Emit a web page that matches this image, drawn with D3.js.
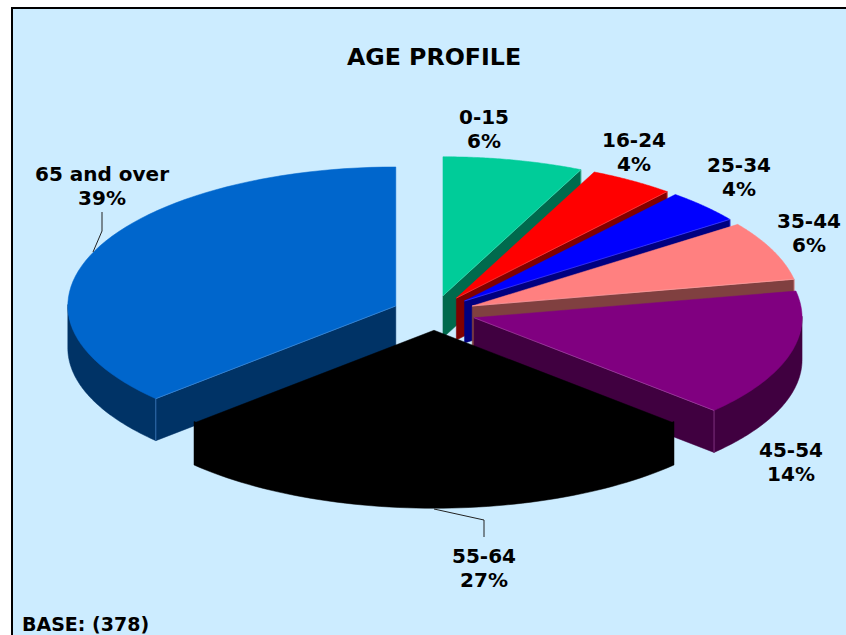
<!DOCTYPE html>
<html><head><meta charset="utf-8">
<script src="https://cdn.jsdelivr.net/npm/d3@7"></script>
<style>html,body{margin:0;padding:0;background:#fff;overflow:hidden}svg{display:block}text{font-family:"DejaVu Sans",Verdana,sans-serif;font-weight:bold;fill:#000}</style>
</head><body><div id="c"></div>
<script>
const categories = ["0-15","16-24","25-34","35-44","45-54","55-64","65 and over"];
const percentLabels = [6,4,4,6,14,27,39];
// slice shares as actually drawn in the picture
const sliceShares = [6.9,4.2,3.9,6.9,15,26.1,36.9];
const topColors = ["#00CC99","#FF0000","#0000FF","#FF8080","#800080","#000000","#0066CC"];
const sideColors = ["#006A4D","#800000","#000080","#804040","#400040","#000000","#003366"];
const labelAnchors = [[484,117],[634,140],[739,165],[809,221],[791,450],[484,556],[102,174]];
const drawOrder = [0,1,2,3,4,6,5];

const W=846,H=635, cx=434, cy=313, rx=328, ryBack=139, ryFront=136, depth=42, explode=0.127;
const svg=d3.select("#c").append("svg").attr("width",W).attr("height",H);
svg.append("rect").attr("x",12).attr("y",8).attr("width",W+10).attr("height",H+10)
  .attr("fill","#CCECFF").attr("stroke","#000").attr("stroke-width",2);

const sx=d3.scaleLinear().domain([-1,1]).range([-rx,rx]);
const sy=d3.scaleLinear().domain([-1,0,1]).range([ryFront,0,-ryBack]);
const arcs=d3.pie().sort(null).value(d=>d)(sliceShares);
const line=d3.line();
const half=Math.PI/2;

arcs.forEach((a,i)=>{a.i=i;const m=(a.startAngle+a.endAngle)/2;
  a.ox=cx+sx(Math.sin(m)*explode); a.oy=cy+sy(Math.cos(m)*explode);});
const rim=(a,t,dz=0)=>[a.ox+sx(Math.sin(t)),a.oy+sy(Math.cos(t))+dz];
const sweep=(a,t0,t1,dz=0)=>d3.range(0,61).map(k=>rim(a,t0+(t1-t0)*k/60,dz));

const g=svg.append("g");
drawOrder.forEach(i=>{
  const a=arcs[i], side=sideColors[i], top=topColors[i];
  const apex=[a.ox,a.oy], apexB=[a.ox,a.oy+depth];
  const edge=d3.interpolateRgb(top,"#fff")(0.3);
  const faceAngle=a.endAngle<Math.PI?a.endAngle:(a.startAngle>Math.PI?a.startAngle:null);
  // radial face
  if(faceAngle!==null){
    const e=rim(a,faceAngle), eb=rim(a,faceAngle,depth);
    g.append("path").attr("d",line([apex,e,eb,apexB])+"Z").attr("fill",side).attr("stroke",side).attr("stroke-width",.5);
  }
  // outer wall on the front half; its upper boundary runs under the top face
  const t0=Math.max(a.startAngle,half), t1=Math.min(a.endAngle,3*half);
  if(t1>t0){
    g.append("path").attr("d",line([...sweep(a,t0,t1,-1.5),...sweep(a,t1,t0,depth)])+"Z").attr("fill",side).attr("stroke",side).attr("stroke-width",.5);
  }
  // top
  g.append("path").attr("d",line([apex,...sweep(a,a.startAngle,a.endAngle)])+"Z").attr("fill",top).attr("stroke",top).attr("stroke-width",.5);
  // thin lighter edges
  if(faceAngle!==null){
    const e=rim(a,faceAngle), eb=rim(a,faceAngle,depth);
    g.append("path").attr("d",line([apex,e,eb])).attr("fill","none").attr("stroke",edge).attr("stroke-width",.6);
  }
});

const leader=d3.line();
[[[102,212],[102,231],[93,252]],[[434,509],[484,520],[484,537]]].forEach(p=>
  svg.append("path").attr("d",leader(p)).attr("fill","none").attr("stroke","#222").attr("stroke-width",1));

const FS=20;
categories.forEach((c,i)=>{
  const [x,y]=labelAnchors[i];
  const t=svg.append("text").attr("text-anchor","middle").attr("font-size",FS);
  t.append("tspan").attr("x",x).attr("y",y+7).text(c);
  t.append("tspan").attr("x",x).attr("y",y+31).text(percentLabels[i]+"%");
});
svg.append("text").attr("x",434).attr("y",65).attr("text-anchor","middle").attr("font-size",23.7).text("AGE PROFILE");
svg.append("text").attr("x",22).attr("y",631).attr("font-size",19).text("BASE: (378)");
</script></body></html>
